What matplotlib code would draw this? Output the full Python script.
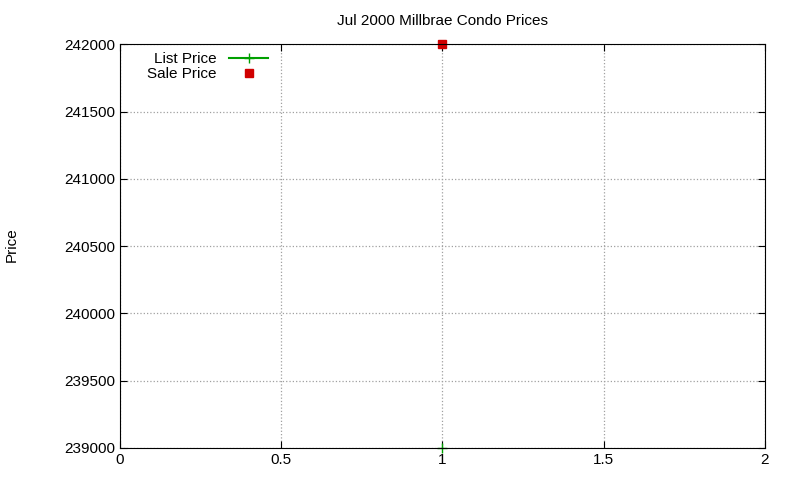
import matplotlib
matplotlib.use('Agg')
import matplotlib.pyplot as plt

# one condo listing, Jul 2000
x = [1]
list_price = [239000]
sale_price = [242000]

plt.rcParams['font.family'] = ['Liberation Sans', 'DejaVu Sans']

fig = plt.figure(figsize=(8, 4.8), dpi=100)
ax = fig.add_axes([0.15, 0.0667, 0.806, 0.841])

ax.plot(x, list_price, color='#00a000', marker='+', markersize=7, linestyle='-',
        linewidth=1.5, label='List Price', clip_on=False)
ax.plot(x, sale_price, color='#d00000', marker='s', markersize=6, linestyle='none',
        label='Sale Price', clip_on=False)

ax.set_xlim(0, 2)
ax.set_ylim(239000, 242000)
ax.set_xticks([0, 0.5, 1, 1.5, 2])
ax.set_xticklabels(['0', '0.5', '1', '1.5', '2'])
ax.set_yticks(range(239000, 242001, 500))
ax.tick_params(direction='in', labelsize=11, length=5, top=True, right=True)
ax.grid(True, color='#a0a0a0', linestyle=':', linewidth=0.9)
for s in ax.spines.values():
    s.set_linewidth(0.8)

ax.set_title('Jul 2000 Millbrae Condo Prices', fontsize=11, pad=14)
fig.text(0.015, 0.49, 'Price', rotation=90, fontsize=11, ha='center', va='center')

ax.legend(loc='upper left', bbox_to_anchor=(0.03, 1.0), frameon=False, fontsize=11,
          markerfirst=False, handlelength=2.6, borderaxespad=0.1, labelspacing=0.1)

fig.savefig('out.png', dpi=100)
